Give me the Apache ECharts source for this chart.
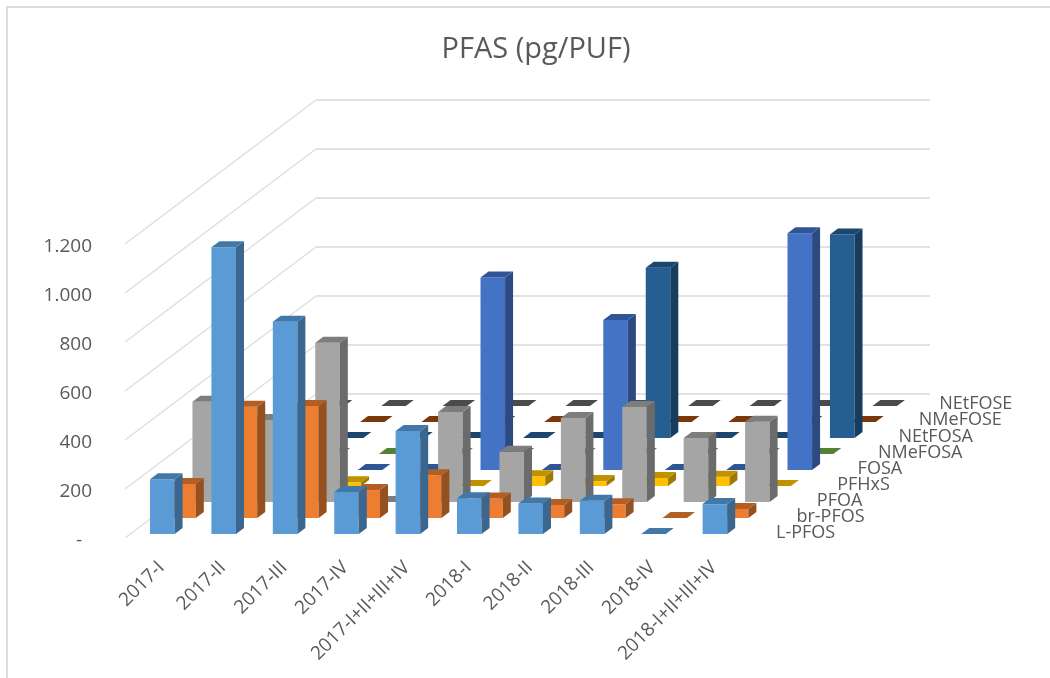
<!DOCTYPE html>
<html>
<head>
<meta charset="utf-8">
<title>PFAS (pg/PUF)</title>
<script src="https://cdn.jsdelivr.net/npm/echarts@6/dist/echarts.min.js"></script>
<style>
html, body { margin: 0; padding: 0; background: #fff; }
#main { width: 1050px; height: 678px; }
</style>
</head>
<body>
<div id="main"></div>
<script>
var categories = ['2017-I', '2017-II', '2017-III', '2017-IV', '2017-I+II+III+IV', '2018-I', '2018-II', '2018-III', '2018-IV', '2018-I+II+III+IV'];
var seriesNames = ['L-PFOS', 'br-PFOS', 'PFOA', 'PFHxS', 'FOSA', 'NMeFOSA', 'NEtFOSA', 'NMeFOSE', 'NEtFOSE'];
var yTicks = [0, 200, 400, 600, 800, 1000, 1200];

var lPfos = [223, 1170, 866, 171, 420, 146, 125, 136, 0, 122];
var brPfos = [139, 454, 457, 114, 175, 80, 53, 56, 0, 37];
var pfoa = [409, 335, 650, 0, 367, 205, 343, 388, 261, 328];
var pfhxs = [0, 0, 15, 0, 0, 40, 20, 33, 38, 0];
var fosa = [0, 0, 0, 0, 786, 0, 612, 0, 0, 966];
var nMeFosa = [0, 0, 0, 0, 0, 0, 0, 0, 0, 0];
var nEtFosa = [0, 0, 0, 0, 0, 0, 695, 0, 0, 831];
var nMeFose = [0, 0, 0, 0, 0, 0, 0, 0, 0, 0];
var nEtFose = [0, 0, 0, 0, 0, 0, 0, 0, 0, 0];
var seriesValues = [lPfos, brPfos, pfoa, pfhxs, fosa, nMeFosa, nEtFosa, nMeFose, nEtFose];

// front, top, side
var colors = [
    ['#5b9bd5', '#4178a8', '#3b668f'],
    ['#ed7d31', '#b35e25', '#95501f'],
    ['#a5a5a5', '#7d7d7d', '#6b6b6b'],
    ['#ffc000', '#c09100', '#a07a00'],
    ['#4472c4', '#2f5597', '#2c4a80'],
    ['#70ad47', '#548235', '#47702d'],
    ['#255e91', '#1c466d', '#173c5e'],
    ['#9e480e', '#7a380b', '#6a300a'],
    ['#636363', '#4b4b4b', '#404040']
];

// fake 3d: the floor goes this far back and up
var floorX = 191, floorY = 144;
var stepX = floorX / seriesNames.length, stepY = floorY / seriesNames.length;
var capX = 8, capY = 6;

function renderBar(row) {
    return function (params, api) {
        var cat = api.value(0), val = api.value(1);
        var base = api.coord([cat, 0]), top = api.coord([cat, val]);
        var w = api.size([1, 0])[0] * 0.4;
        var x0 = base[0] - w / 2 + stepX * row + 6.6;
        var x1 = x0 + w;
        var yb = base[1] - stepY * row - 4;
        var yt = top[1] - stepY * row - 4;
        var c = colors[row];
        return {
            type: 'group',
            silent: true,
            children: [
                { type: 'polygon', shape: { points: [[x0, yb], [x1, yb], [x1, yt], [x0, yt]] }, style: { fill: c[0] } },
                { type: 'polygon', shape: { points: [[x1, yb], [x1 + capX, yb - capY], [x1 + capX, yt - capY], [x1, yt]] }, style: { fill: c[2] } },
                { type: 'polygon', shape: { points: [[x0, yt], [x1, yt], [x1 + capX, yt - capY], [x0 + capX, yt - capY]] }, style: { fill: c[1] } }
            ]
        };
    };
}

function renderWall(params, api) {
    var g = params.coordSys;
    var y = api.coord([0, api.value(0)])[1];
    return {
        type: 'group',
        silent: true,
        children: [
            { type: 'line', shape: { x1: g.x, y1: y, x2: g.x + floorX, y2: y - floorY }, style: { stroke: '#dedede', lineWidth: 1.5 } },
            { type: 'line', shape: { x1: g.x + floorX, y1: y - floorY, x2: g.x + g.width + floorX, y2: y - floorY }, style: { stroke: '#e2e2e2', lineWidth: 2 } }
        ]
    };
}

function renderDepthLabel(params, api) {
    var g = params.coordSys;
    var i = api.value(0);
    return {
        type: 'text',
        silent: true,
        style: {
            x: g.x + g.width + 37 + 20.4 * i,
            y: g.y + g.height - 5 - 16.1 * i,
            text: seriesNames[i],
            fill: '#595959',
            font: '18px "Open Sans"',
            align: 'left',
            verticalAlign: 'middle'
        }
    };
}

var series = [{
    type: 'custom',
    name: 'walls',
    renderItem: renderWall,
    data: yTicks.map(function (v) { return [v]; }),
    encode: { y: 0 },
    clip: false
}];
for (var r = seriesNames.length - 1; r >= 0; r--) {
    series.push({
        type: 'custom',
        name: seriesNames[r],
        renderItem: renderBar(r),
        data: seriesValues[r].map(function (v, k) { return [k, v]; }),
        encode: { x: 0, y: 1 },
        clip: false
    });
}
series.push({
    type: 'custom',
    name: 'depth labels',
    renderItem: renderDepthLabel,
    data: seriesNames.map(function (n, i) { return [i]; }),
    clip: false
});

var myChart = echarts.init(document.getElementById('main'));
myChart.setOption({
    animation: false,
    title: {
        text: 'PFAS (pg/PUF)',
        left: 531,
        top: 30,
        textAlign: 'center',
        textStyle: { color: '#595959', fontSize: 29, fontWeight: 'normal', fontFamily: 'Open Sans' }
    },
    graphic: [{
        type: 'polyline',
        silent: true,
        shape: { points: [[7, 690], [7, 7], [1060, 7]] },
        style: { fill: null, stroke: '#dcdcdc', lineWidth: 2 }
    }],
    grid: { left: 125, right: 311, top: 244, bottom: 140 },
    xAxis: {
        type: 'category',
        data: categories,
        axisLine: { show: false },
        axisTick: { show: false },
        axisLabel: {
            interval: 0,
            rotate: 45,
            margin: 21,
            formatter: function (v) { return '{c|' + v + '}'; },
            rich: { c: { color: '#595959', fontSize: 19, fontFamily: 'Open Sans', padding: [16, 0, 0, 0] } }
        }
    },
    yAxis: {
        type: 'value',
        min: 0,
        max: 1200,
        interval: 200,
        axisLine: { show: false },
        axisTick: { show: false },
        splitLine: { show: false },
        axisLabel: {
            margin: 33,
            formatter: function (v) {
                if (v === 0) return '{t|-  }';
                return '{t|' + (v >= 1000 ? Math.floor(v / 1000) + '.' + ('00' + (v % 1000)).slice(-3) : v) + '}';
            },
            rich: { t: { color: '#595959', fontSize: 19, fontFamily: 'Open Sans', padding: [6, 0, 0, 0] } }
        }
    },
    series: series
});
</script>
</body>
</html>
